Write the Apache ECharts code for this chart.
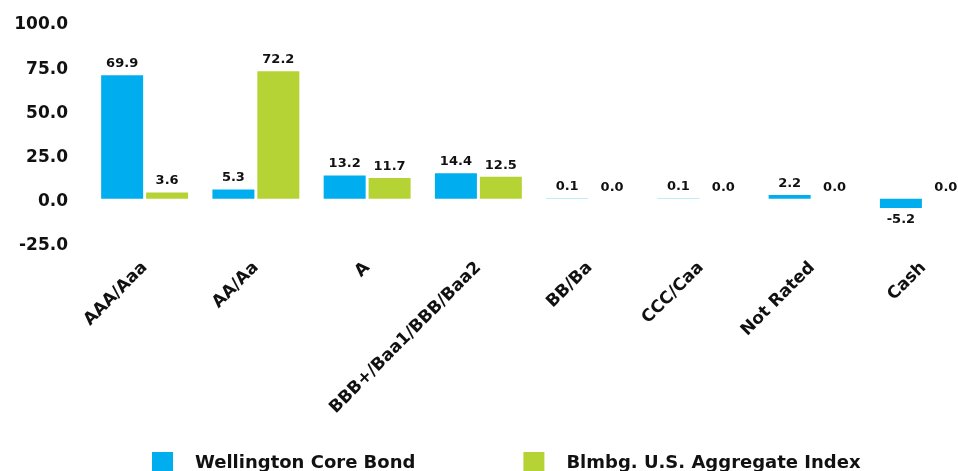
<!DOCTYPE html>
<html>
<head>
<meta charset="utf-8">
<script src="https://cdn.jsdelivr.net/npm/echarts@6/dist/echarts.min.js"></script>
<style>
html,body{margin:0;padding:0;background:#fff;}
#chart{width:958px;height:471px;}
</style>
</head>
<body>
<div id="chart"></div>
<script>
const categories = ['AAA/Aaa', 'AA/Aa', 'A', 'BBB+/Baa1/BBB/Baa2', 'BB/Ba', 'CCC/Caa', 'Not Rated', 'Cash'];
const wellington = [69.9, 5.3, 13.2, 14.4, 0.1, 0.1, 2.2, -5.2];
const bloomberg = [3.6, 72.2, 11.7, 12.5, 0.0, 0.0, 0.0, 0.0];
const seriesNames = ['Wellington Core Bond', 'Blmbg. U.S. Aggregate Index'];
const yTicks = { min: -25, max: 100, interval: 25 };

const FONT = '"DejaVu Sans", sans-serif';
function mk(vals) {
  return vals.map(v => ({
    value: v,
    label: { position: v < 0 ? 'bottom' : 'top' }
  }));
}
const chart = echarts.init(document.getElementById('chart'));
chart.setOption({
  animation: false,
  color: ['#00AEEF', '#B5D334'],
  grid: { left: 89, top: 22, right: -21, height: 221, containLabel: false, outerBoundsMode: 'none' },
  legend: {
    bottom: -3,
    left: 152,
    padding: 0,
    itemWidth: 21,
    itemHeight: 22,
    itemGap: 108,
    icon: 'rect',
    textStyle: { fontFamily: FONT, fontWeight: 'bold', fontSize: 18, color: '#111', padding: [0, 0, 0, 17] },
    data: seriesNames
  },
  xAxis: {
    type: 'category',
    data: categories,
    axisLine: { show: false, onZero: false },
    axisTick: { show: false },
    axisLabel: { rotate: 45, margin: 22, interval: 0, fontFamily: FONT, fontWeight: 'bold', fontSize: 17, color: '#111' }
  },
  yAxis: {
    type: 'value',
    min: yTicks.min, max: yTicks.max, interval: yTicks.interval,
    splitLine: { show: false },
    axisLine: { show: false },
    axisTick: { show: false },
    axisLabel: {
      formatter: v => '{a|' + v.toFixed(1) + '}', margin: 21,
      rich: { a: { padding: [6, 0, 0, 0], fontFamily: FONT, fontWeight: 'bold', fontSize: 17, color: '#111' } }
    }
  },
  series: [
    {
      name: seriesNames[0], type: 'bar', data: mk(wellington),
      barWidth: 42, barGap: '7%',
      label: { show: true, distance: 5, formatter: p => p.value.toFixed(1), fontFamily: FONT, fontWeight: 'bold', fontSize: 13, color: '#111' }
    },
    {
      name: seriesNames[1], type: 'bar', data: mk(bloomberg),
      barWidth: 42, barGap: '7%',
      label: { show: true, distance: 5, formatter: p => p.value.toFixed(1), fontFamily: FONT, fontWeight: 'bold', fontSize: 13, color: '#111' }
    }
  ]
});
</script>
</body>
</html>
